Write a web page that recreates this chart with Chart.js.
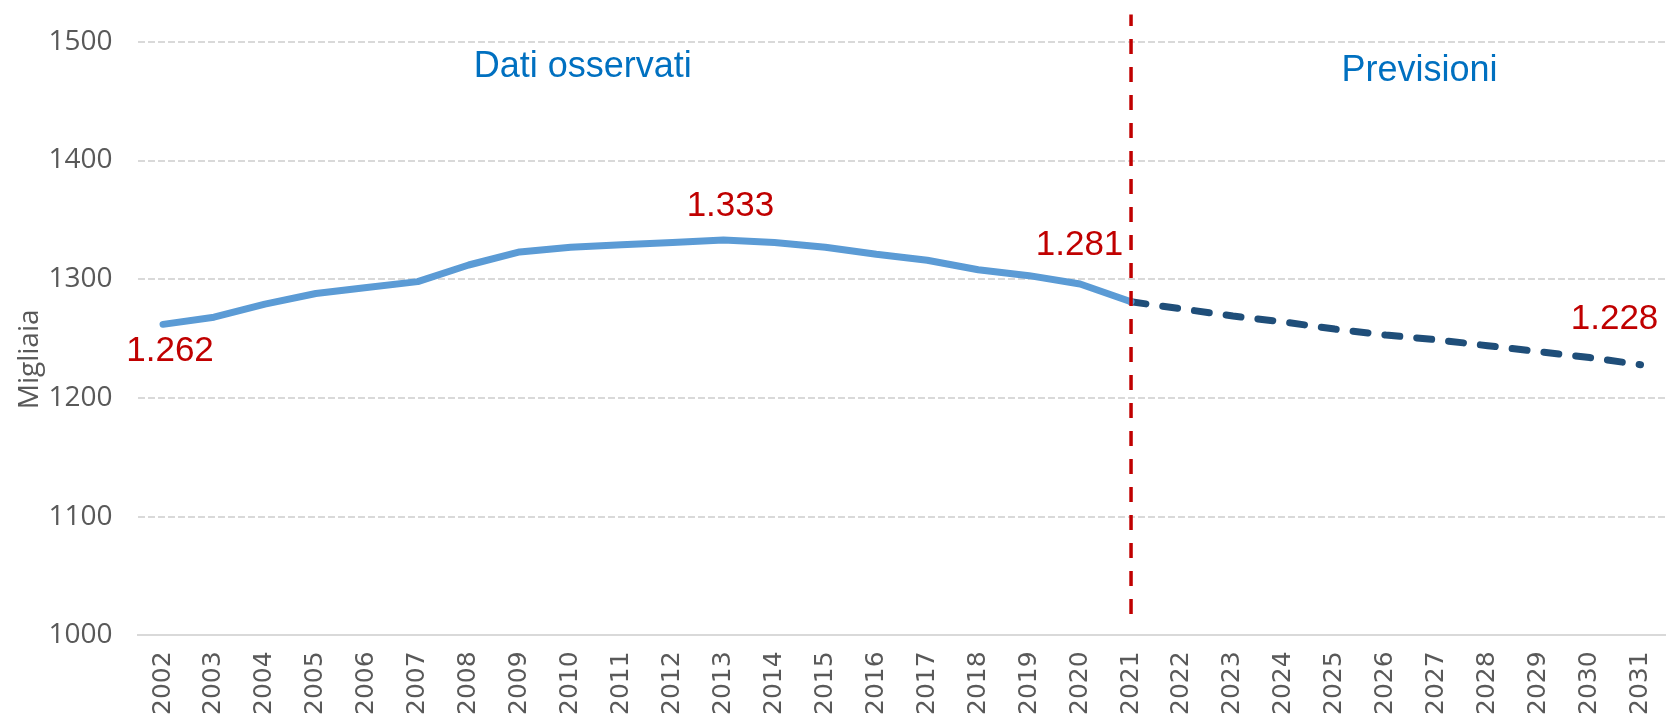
<!DOCTYPE html>
<html>
<head>
<meta charset="utf-8">
<script src="https://cdn.jsdelivr.net/npm/chart.js@4.4.1/dist/chart.umd.min.js"></script>
<style>
    body { margin: 0; background: #ffffff; }
    #wrap { width: 1666px; height: 718px; }
</style>
</head>
<body>
<div id="wrap"><canvas id="popChart" width="1666" height="718"></canvas></div>
<script>
// anni
const years = ['2002', '2003', '2004', '2005', '2006', '2007', '2008', '2009', '2010', '2011',
    '2012', '2013', '2014', '2015', '2016', '2017', '2018', '2019', '2020', '2021',
    '2022', '2023', '2024', '2025', '2026', '2027', '2028', '2029', '2030', '2031'];

// popolazione in migliaia, dati osservati 2002-2021
const observed = [1262, 1268, 1279, 1288, 1293, 1298, 1312, 1323, 1327, 1329,
    1331, 1333, 1331, 1327, 1321, 1316, 1308, 1303, 1296, 1281];

// previsioni 2021-2031
const forecast = [1281, 1275, 1269, 1264, 1258, 1253, 1249, 1244, 1239, 1234, 1228];

const yTicks = [1000, 1100, 1200, 1300, 1400, 1500];
const splitYear = '2021';
const splitRange = [1018, 1523];
const labelledYears = ['2002', '2013', '2021', '2031'];

const observedData = years.map((y, i) => i < observed.length ? observed[i] : null);
const forecastData = years.map((y, i) => {
    const k = i - (years.length - forecast.length);
    return k >= 0 ? forecast[k] : null;
});

const annotations = {
    id: 'annotations',
    afterDatasetsDraw(chart) {
        const ctx = chart.ctx;
        const xs = chart.scales.x;
        const ys = chart.scales.y;
        ctx.save();

        // titoli delle due zone
        ctx.fillStyle = '#0070C0';
        ctx.font = '36px "Liberation Sans", Arial, sans-serif';
        ctx.textAlign = 'center';
        ctx.textBaseline = 'middle';
        ctx.fillText('Dati osservati', xs.getPixelForValue(8.24), ys.getPixelForValue(1479));
        ctx.fillText('Previsioni', xs.getPixelForValue(24.66), ys.getPixelForValue(1475));

        // etichette dei valori
        const offsets = { '2002': [7, 27.5], '2013': [7, -34], '2021': [-51.5, -56], '2031': [-26, -45.5] };
        ctx.fillStyle = '#C00000';
        ctx.font = '35px "Liberation Sans", Arial, sans-serif';
        labelledYears.forEach(year => {
            const i = years.indexOf(year);
            const ds = observedData[i] !== null ? 0 : 1;
            const pt = chart.getDatasetMeta(ds).data[i];
            const v = chart.data.datasets[ds].data[i];
            const off = offsets[year];
            ctx.fillText((v / 1000).toFixed(3), pt.x + off[0], pt.y + off[1]);
        });

        // titolo asse y
        ctx.fillStyle = '#595959';
        ctx.font = '28px "Open Sans", sans-serif';
        ctx.translate(30, ys.getPixelForValue(1232.5));
        ctx.rotate(-Math.PI / 2);
        ctx.fillText('Migliaia', 0, 0);
        ctx.restore();
    }
};

const ctx = document.getElementById('popChart').getContext('2d');
new Chart(ctx, {
    type: 'line',
    data: {
        labels: years,
        datasets: [{
            label: 'Dati osservati',
            data: observedData,
            borderColor: '#5B9BD5',
            borderWidth: 7,
            borderCapStyle: 'round',
            borderJoinStyle: 'round',
            pointRadius: 0,
            tension: 0,
            order: 2
        }, {
            label: 'Previsioni',
            data: forecastData,
            borderColor: '#1F4E79',
            borderWidth: 7,
            borderDash: [15, 17],
            borderCapStyle: 'round',
            pointRadius: 0,
            tension: 0,
            order: 3
        }, {
            label: 'split',
            data: [{ x: splitYear, y: splitRange[0] }, { x: splitYear, y: splitRange[1] }],
            borderColor: '#C00000',
            borderWidth: 3.5,
            borderDash: [15, 13],
            pointRadius: 0,
            clip: false,
            order: 1
        }]
    },
    options: {
        responsive: false,
        animation: false,
        layout: { padding: { left: 23.5, top: 24, right: 0, bottom: -13 } },
        plugins: {
            legend: { display: false },
            tooltip: { enabled: false }
        },
        scales: {
            x: {
                offset: true,
                afterFit: scale => { scale.paddingRight = 0; },
                grid: { display: false, drawTicks: false },
                border: { display: true, color: '#D9D9D9', width: 2 },
                ticks: {
                    color: '#595959',
                    font: { family: '"DejaVu Sans"', size: 25 },
                    minRotation: 90,
                    maxRotation: 90,
                    padding: 16,
                    autoSkip: false
                }
            },
            y: {
                min: yTicks[0],
                max: yTicks[yTicks.length - 1],
                afterBuildTicks: scale => { scale.ticks = yTicks.map(v => ({ value: v })); },
                grid: { color: '#D9D9D9', lineWidth: 2, drawTicks: false },
                border: { display: false, dash: [7, 3] },
                ticks: {
                    color: '#595959',
                    font: { family: '"Open Sans"', size: 28 },
                    padding: 25,
                    callback: v => String(v)
                }
            }
        }
    },
    plugins: [annotations]
});
</script>
</body>
</html>
